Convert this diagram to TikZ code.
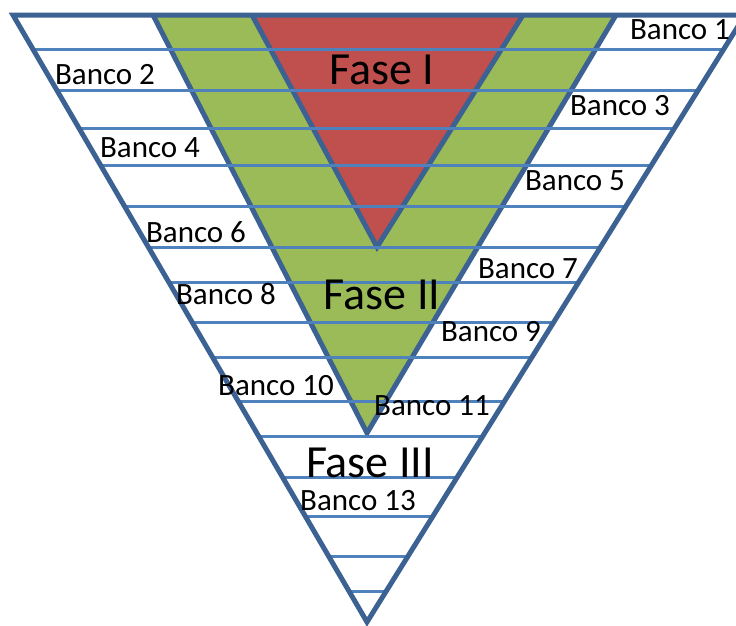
\documentclass[tikz,border=0pt]{standalone}
\usepackage{fontspec}
\setmainfont{Carlito}
\usetikzlibrary{calc}
\definecolor{rim}{HTML}{3C6193}
\definecolor{bench}{HTML}{4F81BD}
\definecolor{phaseone}{HTML}{C0504D}
\definecolor{phasetwo}{HTML}{9BBB59}
\tikzset{
  rimline/.style={draw=rim, line width=5pt, line join=miter},
  benchline/.style={draw=bench, line width=3pt},
  benchlabel/.style={inner sep=0pt, font=\fontsize{31}{31}\selectfont},
  phaselabel/.style={inner sep=0pt, font=\fontsize{46}{46}\selectfont}
}
\begin{document}
\begin{tikzpicture}[x=1pt,y=-1pt]
\useasboundingbox (0,0) rectangle (736,625);
\clip (0,0) rectangle (736,625);

% pit outline
\coordinate (TL) at (13,15);
\coordinate (TR) at (745,15);
\coordinate (A)  at (367,622);
% phase II
\coordinate (GL) at (153,15);
\coordinate (GR) at (616,15);
\coordinate (GA) at (367,433);
% phase I
\coordinate (RL) at (252,15);
\coordinate (RR) at (523,15);
\coordinate (RA) at (377,247);

\fill[phasetwo] (GL) -- (GA) -- (GR) -- cycle;
\fill[phaseone] (RL) -- (RA) -- (RR) -- cycle;

\draw[rimline] (GL) -- (GA) -- (GR);
\draw[rimline] (RL) -- (RA) -- (RR);

% benches
\foreach \y in {50,90,128,165,206,247,282,322,357,401,436,477,516,556,591}
  \draw[benchline] ($(TL)!{(\y-15)/607}!(A)$) -- ($(TR)!{(\y-15)/607}!(A)$);

\draw[rimline] (TL) -- (TR) -- (A) -- cycle;

\node[benchlabel] (b1)  at (680,30)  {Banco 1};
\node[benchlabel] (b2)  at (105,75)  {Banco 2};
\node[benchlabel] (b3)  at (620,106) {Banco 3};
\node[benchlabel] (b4)  at (150,148) {Banco 4};
\node[benchlabel] (b5)  at (575,181) {Banco 5};
\node[benchlabel] (b6)  at (196,232) {Banco 6};
\node[benchlabel] (b7)  at (528,269) {Banco 7};
\node[benchlabel] (b8)  at (226,294) {Banco 8};
\node[benchlabel] (b9)  at (491,332) {Banco 9};
\node[benchlabel] (b10) at (276,386) {Banco 10};
\node[benchlabel] (b11) at (432,406) {Banco 11};
\node[benchlabel] (b13) at (358,501) {Banco 13};

\node[phaselabel] (f1) at (382,70)  {Fase I};
\node[phaselabel] (f2) at (382,295) {Fase II};
\node[phaselabel] (f3) at (370,463) {Fase III};
\end{tikzpicture}
\end{document}
